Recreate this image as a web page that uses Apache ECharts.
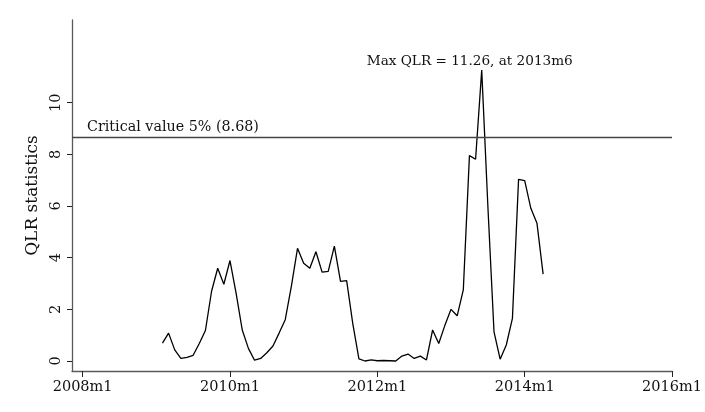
<!DOCTYPE html>
<html>
<head>
<meta charset="utf-8">
<script src="https://cdn.jsdelivr.net/npm/echarts@6/dist/echarts.min.js"></script>
<style>
  html, body { margin: 0; padding: 0; background: #fff; }
  #chart { width: 705px; height: 412px; }
</style>
</head>
<body>
<div id="chart"></div>
<script>
// Monthly QLR statistics, first observation 2009m2, last 2014m4
const startYear = 2009;
const startMonth = 2;
const qlrValues = [
  0.69, 1.08, 0.43, 0.10, 0.14, 0.22, 0.68, 1.18, 2.70, 3.59, 2.97,   // 2009m2 - 2009m12
  3.89, 2.62, 1.20, 0.49, 0.03, 0.10, 0.32, 0.58, 1.08, 1.60, 2.90, 4.36, // 2010
  3.78, 3.59, 4.23, 3.44, 3.47, 4.45, 3.08, 3.11, 1.45, 0.08, 0.00, 0.04, // 2011
  0.01, 0.02, 0.01, 0.00, 0.19, 0.27, 0.10, 0.19, 0.04, 1.20, 0.68, 1.38, // 2012
  2.00, 1.75, 2.75, 7.95, 7.81, 11.26, 6.00, 1.13, 0.07, 0.62, 1.65, 7.03, // 2013
  6.98, 5.91, 5.33, 3.36                                              // 2014m1 - m4
];
const criticalValue = 8.68;
const yTickValues = [0, 2, 4, 6, 8, 10];
const xTickLabels = ['2008m1', '2010m1', '2012m1', '2014m1', '2016m1'];

// x is measured in months since 2008m1
const baseYear = 2008;
const monthIndex = (y, m) => (y - baseYear) * 12 + (m - 1);
const xTickValues = xTickLabels.map(s => {
  const [y, m] = s.split('m').map(Number);
  return monthIndex(y, m);
});
const firstIdx = monthIndex(startYear, startMonth);
const seriesData = qlrValues.map((v, i) => [firstIdx + i, v]);

const monthLabel = idx => `${baseYear + Math.floor(idx / 12)}m${(idx % 12) + 1}`;
let maxI = 0;
qlrValues.forEach((v, i) => { if (v > qlrValues[maxI]) maxI = i; });
const maxPoint = seriesData[maxI];

const serif = '"DejaVu Serif", "Liberation Serif", serif';
const axisGray = '#5a5a5a';

const chart = echarts.init(document.getElementById('chart'));
chart.setOption({
  backgroundColor: '#ffffff',
  animation: false,
  grid: { left: 72, right: 29, top: 20, bottom: 41, containLabel: false },
  xAxis: {
    type: 'value',
    min: -1.73,
    max: 96,
    axisLine: { show: true, onZero: false, lineStyle: { color: axisGray, width: 1.3 } },
    axisTick: { show: true, length: 6, customValues: xTickValues, lineStyle: { color: '#222', width: 1 } },
    axisLabel: {
      customValues: xTickValues,
      formatter: v => monthLabel(Math.round(v)),
      color: '#111', fontFamily: serif, fontSize: 14.5, margin: 9
    },
    splitLine: { show: false }
  },
  yAxis: {
    type: 'value',
    min: -0.387,
    max: 13.2,
    name: 'QLR statistics',
    nameLocation: 'middle',
    nameGap: 30,
    nameTextStyle: { fontFamily: serif, fontSize: 17, color: '#111' },
    axisLine: { show: true, onZero: false, lineStyle: { color: axisGray, width: 1.3 } },
    axisTick: { show: true, length: 5, customValues: yTickValues, lineStyle: { color: '#222', width: 1 } },
    axisLabel: {
      customValues: yTickValues,
      rotate: 90,
      color: '#111', fontFamily: serif, fontSize: 14.5, margin: 8
    },
    splitLine: { show: false }
  },
  series: [{
    type: 'line',
    data: seriesData,
    showSymbol: false,
    symbol: 'none',
    lineStyle: { color: '#000', width: 1.3 },
    markLine: {
      silent: true,
      symbol: 'none',
      lineStyle: { color: '#444', width: 1.3, type: 'solid' },
      label: {
        show: true,
        position: 'insideStartTop',
        formatter: `Critical value 5% (${criticalValue.toFixed(2)})`,
        color: '#111', fontFamily: serif, fontSize: 14.3, distance: [15, 2]
      },
      data: [{ yAxis: criticalValue }]
    },
    markPoint: {
      silent: true,
      symbol: 'circle',
      symbolSize: 0,
      label: {
        show: true,
        position: 'top',
        distance: 2,
        offset: [-12, 0],
        formatter: `Max QLR = ${maxPoint[1].toFixed(2)}, at ${monthLabel(maxPoint[0])}`,
        color: '#111', fontFamily: serif, fontSize: 13.6
      },
      data: [{ coord: maxPoint }]
    }
  }]
});
</script>
</body>
</html>
